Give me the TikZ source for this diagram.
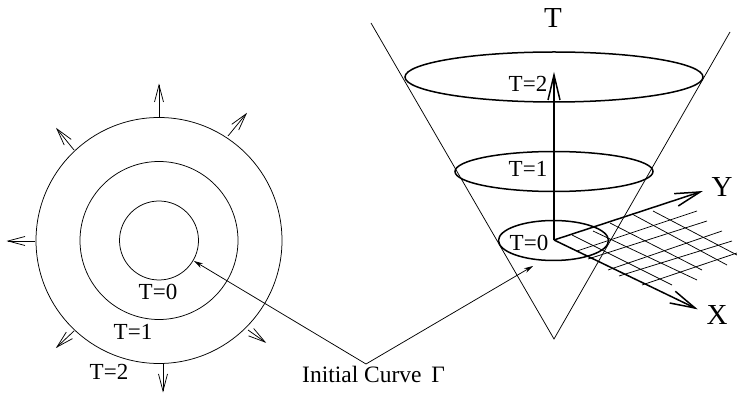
\documentclass[tikz,border=0pt]{standalone}
\usepackage{fontspec}
\setmainfont{Liberation Serif}
\usetikzlibrary{arrows.meta,calc}
\tikzset{
 x=1pt,y=-1pt,
 thinl/.style={line width=0.75pt,black},
 thickl/.style={line width=1.5pt,black},
 lead/.style={-{Stealth[length=9pt,width=5pt]}},
 lab/.style={font=\fontsize{23}{23}\selectfont,inner sep=0pt},
 big/.style={font=\fontsize{29}{29}\selectfont,inner sep=0pt},
}
% open straight arrow: style, from, to, length, half width
\newcommand{\veearrow}[5]{%
  \draw[#1] (#2) -- (#3);
  \draw[#1,miter limit=10] ($(#3)!#4pt!(#2)!#5pt!90:(#2)$) -- (#3) -- ($(#3)!#4pt!(#2)!#5pt!-90:(#2)$);
}
\begin{document}
\begin{tikzpicture}
\useasboundingbox (0,0) rectangle (737,395);
\coordinate (c) at (159,240.5);
\draw[thinl] (c) circle[radius=39.5];
\draw[thinl] (c) circle[radius=79];
\draw[thinl] (c) circle[radius=123];
\foreach \a/\b/\cc/\d in {159/117/159/85, 228/136/246/114, 74/150/57/129, 35/241/8/241, 74/331/57/347, 163/364/163/391, 248/330/265/342}{
  \coordinate (p) at (\a,\b);
  \coordinate (q) at (\cc,\d);
  \veearrow{thinl}{p}{q}{17}{4.5}
}
\node[lab] at (158,292) {T=0};
\node[lab] at (133,332) {T=1};
\node[lab] at (109,372) {T=2};
\node[lab,anchor=base west,font=\fontsize{23.5}{23.5}\selectfont] (ic) at (302,383) {Initial Curve \,Γ};
\coordinate (k) at (366,364);
\coordinate (t1) at (194,261);
\coordinate (t2) at (533,266);
\draw[thinl,lead] (k) -- (t1);
\draw[thinl,lead] (k) -- (t2);
% cone
\coordinate (ap) at (554,339);
\draw[thinl] (371,23) -- (ap) -- (730,32);
\draw[thickl] (554,77) ellipse[x radius=149,y radius=25];
\draw[thickl] (554,171.5) ellipse[x radius=99,y radius=20];
\draw[thickl] (553.5,240.5) ellipse[x radius=55,y radius=20];
% grid
\foreach \a/\b/\cc/\d in {
 577/251/697/211, 588/259/707/221, 608/270/722/231, 619/276/732/241, 642/285/737/253,
 572/235/672/285, 593/231/697/280, 610/223/702/270, 632/214/727/265, 653/211/737/255}
  \draw[thinl] (\a,\b) -- (\cc,\d);
\coordinate (o) at (554,240);
\coordinate (at) at (554,75);
\coordinate (ay) at (700,192);
\coordinate (ax) at (695,308);
\veearrow{thickl}{o}{at}{25}{6}
\veearrow{thickl}{o}{ay}{25}{6.5}
\veearrow{thickl}{o}{ax}{25}{6.5}
\node[lab] at (528,84) {T=2};
\node[lab] at (528,169) {T=1};
\node[lab] at (529,243) {T=0};
\node[big] at (553,18) {T};
\node[big] at (722,187) {Y};
\node[big] at (717,315) {X};
\end{tikzpicture}
\end{document}
